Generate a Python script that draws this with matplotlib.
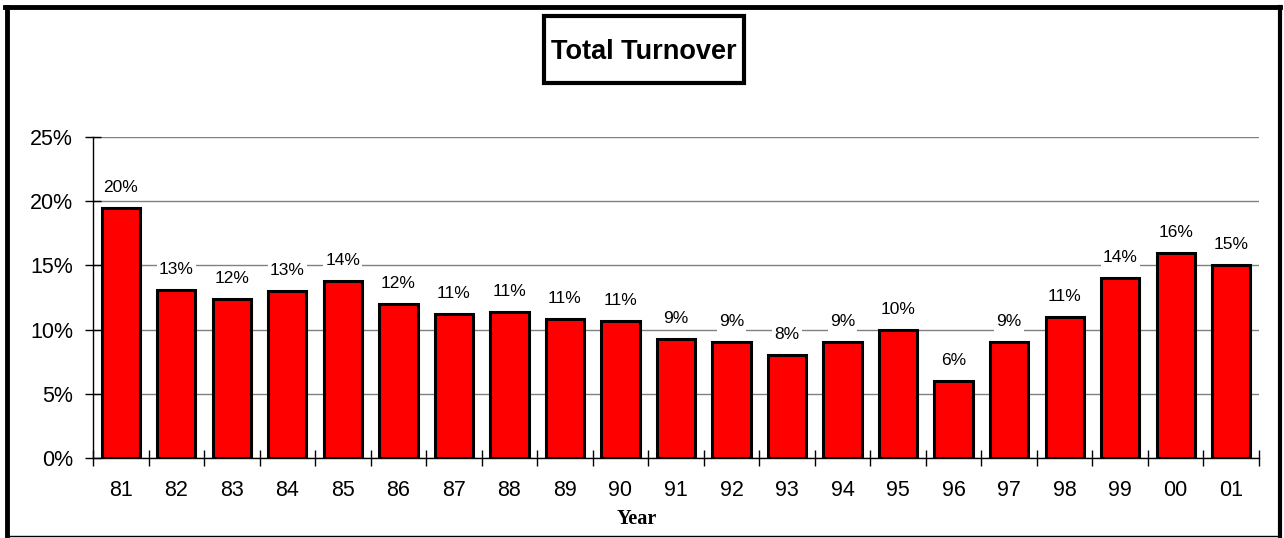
import matplotlib
matplotlib.use("Agg")
import matplotlib.pyplot as plt
import numpy as np
from matplotlib.patches import Rectangle
from matplotlib.ticker import FixedLocator, PercentFormatter

years = ['81', '82', '83', '84', '85', '86', '87', '88', '89', '90', '91',
         '92', '93', '94', '95', '96', '97', '98', '99', '00', '01']
turnover = [19.5, 13.1, 12.4, 13.0, 13.8, 12.0, 11.2, 11.4, 10.8, 10.7, 9.3,
            9.0, 8.0, 9.0, 10.0, 6.0, 9.0, 11.0, 14.0, 16.0, 15.0]
y_ticks = [0, 5, 10, 15, 20, 25]

plt.rcParams['font.family'] = ['Liberation Sans', 'DejaVu Sans']

W, H = 1284, 538
fig = plt.figure(figsize=(W / 100, H / 100), dpi=100)
ax = fig.add_axes([93 / W, 1 - 458 / H, (1259 - 93) / W, (458 - 137) / H])

x = np.arange(len(years))
ax.bar(x, turnover, width=0.69, color='#ff0000', edgecolor='black',
       linewidth=2.2, zorder=3)

# value labels sit on a white patch that breaks the gridlines
for xi, v in zip(x, turnover):
    ax.annotate(f'{v:.0f}%', xy=(xi, v), xytext=(0, 11.5), textcoords='offset points',
                ha='center', va='baseline', fontsize=12.5, zorder=4,
                bbox=dict(facecolor='white', edgecolor='none', pad=1.5))

ax.set_xlim(-0.5, len(years) - 0.5)
ax.set_ylim(0, 25)
ax.set_yticks(y_ticks)
ax.yaxis.set_major_formatter(PercentFormatter(decimals=0))
ax.grid(axis='y', color='#808080', linewidth=1, zorder=0)

ax.set_xticks(x)
ax.set_xticklabels(years, fontsize=15.5)
ax.xaxis.set_minor_locator(FixedLocator(np.arange(-0.5, len(years), 1)))
ax.tick_params(axis='x', which='major', length=0, pad=16)
ax.tick_params(axis='x', which='minor', length=11.5, direction='inout', width=1)
ax.tick_params(axis='y', labelsize=15.5, length=11.5, direction='inout', width=1, pad=8.6)

for side in ['top', 'right']:
    ax.spines[side].set_visible(False)
for side in ['left', 'bottom']:
    ax.spines[side].set_color('black')
    ax.spines[side].set_linewidth(1)

fig.text(637 / W, 1 - 524 / H, 'Year', ha='center', va='baseline',
         fontsize=14.5, fontweight='bold', family=['Liberation Serif', 'DejaVu Serif'])

# title in a heavy box
fig.add_artist(Rectangle((544 / W, 1 - 83 / H), 200 / W, 67 / H, facecolor='white',
                         edgecolor='black', linewidth=3, transform=fig.transFigure))
fig.text(644 / W, 1 - 59 / H, 'Total Turnover', ha='center', va='baseline',
         fontsize=19.5, fontweight='bold')

# outer frame: heavy left/top/right, thin bottom
fig.add_artist(plt.Line2D([7 / W, 7 / W], [0, 1 - 7 / H], color='black',
                          linewidth=3.5, transform=fig.transFigure))
fig.add_artist(plt.Line2D([5.5 / W, 1 - 4 / W], [1 - 7 / H, 1 - 7 / H], color='black',
                          linewidth=3.5, transform=fig.transFigure))
fig.add_artist(plt.Line2D([1 - 4 / W, 1 - 4 / W], [0, 1 - 7 / H], color='black',
                          linewidth=3, transform=fig.transFigure))
fig.add_artist(plt.Line2D([7 / W, 1 - 4 / W], [2.5 / H, 2.5 / H], color='black',
                          linewidth=1, transform=fig.transFigure))

fig.savefig('out.png', dpi=100, facecolor='white')
